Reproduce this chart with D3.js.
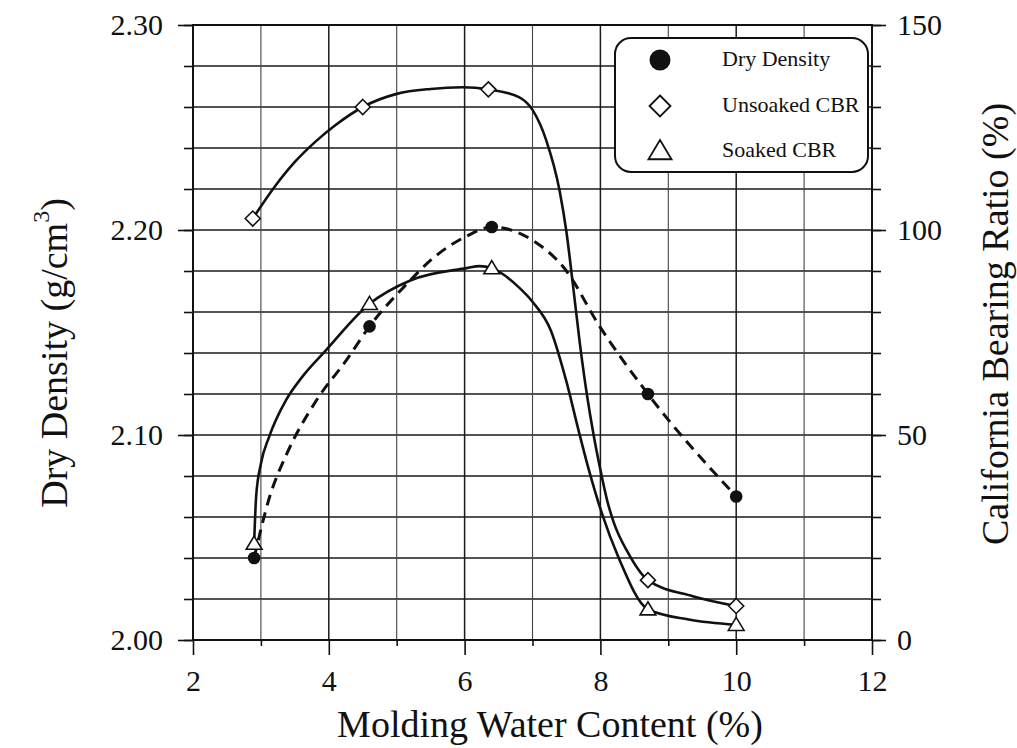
<!DOCTYPE html>
<html>
<head>
<meta charset="utf-8">
<script src="https://cdn.jsdelivr.net/npm/d3@7"></script>
<style>
  html, body { margin: 0; padding: 0; background: #fff; }
  svg { display: block; }
  text { font-family: "Liberation Serif", "DejaVu Serif", serif; fill: #111; }
</style>
</head>
<body>
<svg id="chart" width="1017" height="748"></svg>
<script>
// ---------- data ----------
const xTickLabels = [2, 4, 6, 8, 10, 12];
const yLeftTickLabels = ["2.00", "2.10", "2.20", "2.30"];
const yRightTickLabels = [0, 50, 100, 150];
const legendLabels = ["Dry Density", "Unsoaked CBR", "Soaked CBR"];

// measured points
const dryX = [2.9, 4.6, 6.4, 8.7, 10.0];
const dryDensity = [2.040, 2.153, 2.2015, 2.120, 2.070];
const unsoakedX = [2.88, 4.5, 6.35, 8.7, 10.0];
const unsoakedCBR = [102.8, 130, 134.3, 14.6, 8.3];
const soakedX = [2.9, 4.6, 6.4, 8.7, 10.0];
const soakedCBR = [23.5, 82, 90.7, 7.5, 3.7];

// hand-drawn fitted curves
const dryFitX = [2.9, 3.13, 3.37, 3.8, 4.27, 4.6, 5.1, 5.6, 6.03, 6.4, 7.0, 7.5, 7.97, 8.7, 10.0];
const dryFitY = [2.040, 2.070, 2.090, 2.116, 2.137, 2.153, 2.172, 2.188, 2.197, 2.2015, 2.195, 2.180, 2.154, 2.120, 2.070];
const unsoakedFitX = [2.88, 3.2, 3.5, 3.8, 4.1, 4.5, 5.0, 5.5, 5.97, 6.35, 6.8, 7.0, 7.2, 7.4, 7.5, 7.6, 7.7, 7.8, 7.9, 8.0, 8.1, 8.2, 8.4, 8.7, 9.36, 10.0];
const unsoakedFitY = [102.8, 110.5, 116.6, 121.5, 125.6, 130, 133.2, 134.4, 134.8, 134.3, 132.4, 129.3, 122, 109.5, 99.5, 86, 72, 60, 50, 41.5, 34, 28.5, 21.5, 14.6, 10.7, 8.3];
const soakedFitX = [2.9, 2.93, 3.0, 3.12, 3.37, 3.6, 3.96, 4.6, 5.2, 6.03, 6.22, 6.4, 6.8, 7.0, 7.27, 7.5, 7.68, 7.83, 8.02, 8.27, 8.7, 9.3, 10.0];
const soakedFitY = [23.5, 35, 43, 49.5, 58.5, 64, 70.7, 82, 87.7, 90.7, 91.2, 90.7, 86, 82.5, 75.5, 63, 51, 41.5, 31, 20, 7.5, 5, 3.7];

// ---------- layout ----------
const L = 193, R = 872, T = 25, B = 640;
const svg = d3.select("#chart");

const x = d3.scaleLinear().domain([2, 12]).range([L, R]);
const yL = d3.scaleLinear().domain([2.0, 2.3]).range([B, T]);
const yR = d3.scaleLinear().domain([0, 150]).range([B, T]);

// grid
const grid = svg.append("g").attr("stroke", "#1a1a1a").attr("stroke-width", 1.3);
grid.selectAll("line.h").data(d3.range(1, 15).map(i => 2.0 + i * 0.02)).join("line")
  .attr("x1", L).attr("x2", R).attr("y1", d => yL(d)).attr("y2", d => yL(d));
grid.selectAll("line.v").data(d3.range(3, 12)).join("line")
  .attr("y1", T).attr("y2", B).attr("x1", d => x(d)).attr("x2", d => x(d))
  .attr("stroke-width", d => d % 2 === 0 ? 1.5 : 1.1)
  .attr("stroke", d => d % 2 === 0 ? "#1a1a1a" : "#444");

// axes
function styleAxis(g) {
  g.select(".domain").remove();
  g.selectAll(".tick line").attr("stroke", "#111").attr("stroke-width", 1.6);
  g.selectAll(".tick text").attr("font-size", 30).attr("fill", "#111")
    .style("font-family", "'Liberation Serif', serif");
}
// left
svg.append("g").attr("transform", `translate(${L},0)`)
  .call(d3.axisLeft(yL).tickValues(d3.range(0, 16).map(i => 2.0 + i * 0.02)).tickSize(9).tickFormat(""))
  .call(styleAxis);
svg.append("g").attr("transform", `translate(${L},0)`)
  .call(d3.axisLeft(yL).tickValues(yLeftTickLabels.map(Number)).tickSize(15).tickPadding(15)
    .tickFormat((d, i) => yLeftTickLabels[i]))
  .call(styleAxis);
// right
svg.append("g").attr("transform", `translate(${R},0)`)
  .call(d3.axisRight(yR).tickValues(d3.range(0, 151, 10)).tickSize(9).tickFormat(""))
  .call(styleAxis);
svg.append("g").attr("transform", `translate(${R},0)`)
  .call(d3.axisRight(yR).tickValues(yRightTickLabels).tickSize(14).tickPadding(11))
  .call(styleAxis);
// bottom
svg.append("g").attr("transform", `translate(0,${B})`)
  .call(d3.axisBottom(x).tickValues(d3.range(3, 12, 2)).tickSize(6).tickFormat(""))
  .call(styleAxis);
svg.append("g").attr("transform", `translate(0,${B})`)
  .call(d3.axisBottom(x).tickValues(xTickLabels).tickSize(15).tickPadding(15))
  .call(styleAxis);

// frame
svg.append("rect").attr("x", L).attr("y", T).attr("width", R - L).attr("height", B - T)
  .attr("fill", "none").attr("stroke", "#111").attr("stroke-width", 2);

// curves
const curve = d3.curveMonotoneX;
const lineDry = d3.line().x(d => x(d[0])).y(d => yL(d[1])).curve(curve);
const lineCBR = d3.line().x(d => x(d[0])).y(d => yR(d[1])).curve(curve);

svg.append("path").datum(dryFitX.map((v, i) => [v, dryFitY[i]]))
  .attr("d", lineDry).attr("fill", "none").attr("stroke", "#111")
  .attr("stroke-width", 3).attr("stroke-dasharray", "11,7");
svg.append("path").datum(unsoakedFitX.map((v, i) => [v, unsoakedFitY[i]]))
  .attr("d", lineCBR).attr("fill", "none").attr("stroke", "#111").attr("stroke-width", 2.6);
svg.append("path").datum(soakedFitX.map((v, i) => [v, soakedFitY[i]]))
  .attr("d", lineCBR).attr("fill", "none").attr("stroke", "#111").attr("stroke-width", 2.6);

// markers
const diamondPath = (cx, cy, s) => `M${cx},${cy - s}L${cx + s},${cy}L${cx},${cy + s}L${cx - s},${cy}Z`;
const trianglePath = (cx, cy, s) => `M${cx},${cy - s}L${cx + s * 1.05},${cy + s * 0.75}L${cx - s * 1.05},${cy + s * 0.75}Z`;

svg.append("g").selectAll("path").data(unsoakedX.map((v, i) => [v, unsoakedCBR[i]])).join("path")
  .attr("d", d => diamondPath(x(d[0]), yR(d[1]), 7.5))
  .attr("fill", "#fff").attr("stroke", "#111").attr("stroke-width", 1.6);
svg.append("g").selectAll("path").data(soakedX.map((v, i) => [v, soakedCBR[i]])).join("path")
  .attr("d", d => trianglePath(x(d[0]), yR(d[1]), 7.5))
  .attr("fill", "#fff").attr("stroke", "#111").attr("stroke-width", 1.6);
svg.append("g").selectAll("circle").data(dryX.map((v, i) => [v, dryDensity[i]])).join("circle")
  .attr("cx", d => x(d[0])).attr("cy", d => yL(d[1])).attr("r", 6.3).attr("fill", "#111");

// legend
const lg = svg.append("g");
const lx = 615, ly = 38;
lg.append("rect").attr("x", lx).attr("y", ly).attr("width", 253).attr("height", 134).attr("rx", 16)
  .attr("fill", "#fff").attr("stroke", "#111").attr("stroke-width", 2);
const rowY = [60, 106, 151];
lg.append("circle").attr("cx", lx + 45).attr("cy", rowY[0]).attr("r", 10.5).attr("fill", "#111");
lg.append("path").attr("d", diamondPath(lx + 45, rowY[1], 10.5)).attr("fill", "#fff").attr("stroke", "#111").attr("stroke-width", 1.8);
lg.append("path").attr("d", trianglePath(lx + 45, rowY[2], 11)).attr("fill", "#fff").attr("stroke", "#111").attr("stroke-width", 1.8);
lg.selectAll("text").data(legendLabels).join("text")
  .attr("x", lx + 107).attr("y", (d, i) => rowY[i] + 6)
  .attr("font-size", 22).text(d => d);

// axis titles
svg.append("text").attr("x", 550).attr("y", 737).attr("text-anchor", "middle")
  .attr("font-size", 38).text("Molding Water Content (%)");

const tl = svg.append("text").attr("transform", "translate(67,353) rotate(-90)")
  .attr("text-anchor", "middle").attr("font-size", 38);
tl.append("tspan").text("Dry Density (g/cm");
tl.append("tspan").attr("font-size", 24).attr("dy", -18).text("3");
tl.append("tspan").attr("dy", 18).text(")");

svg.append("text").attr("transform", "translate(1008,324) rotate(-90)")
  .attr("text-anchor", "middle").attr("font-size", 38).text("California Bearing Ratio (%)");
</script>
</body>
</html>
